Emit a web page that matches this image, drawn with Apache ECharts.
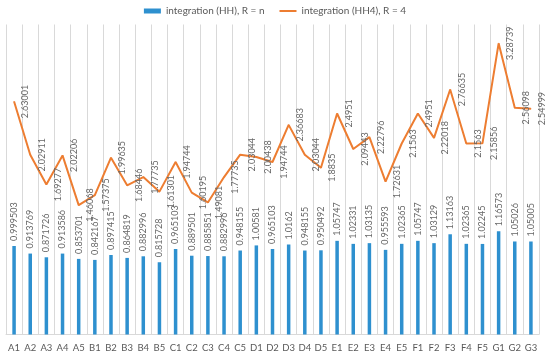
<!DOCTYPE html>
<html>
<head>
<meta charset="utf-8">
<script src="https://cdn.jsdelivr.net/npm/echarts@6/dist/echarts.min.js"></script>
<style>html,body{margin:0;padding:0;background:#fff}#c{width:550px;height:358px}</style>
</head>
<body>
<div id="c"></div>
<script>
const categories = ['A1','A2','A3','A4','A5','B1','B2','B3','B4','B5','C1','C2','C3','C4','C5','D1','D2','D3','D4','D5','E1','E2','E3','E4','E5','F1','F2','F3','F4','F5','G1','G2','G3'];
const hhValues = [0.999503,0.913769,0.871726,0.913586,0.853701,0.842167,0.897415,0.864819,0.882996,0.815728,0.965103,0.889501,0.885851,0.882996,0.948155,1.00581,0.965103,1.0162,0.948155,0.950492,1.05747,1.02331,1.03135,0.955593,1.02365,1.05747,1.03129,1.13163,1.02365,1.02245,1.16573,1.05026,1.05005];
const hh4Values = [2.63001,2.02911,1.69277,2.02206,1.46068,1.57375,1.99635,1.68446,1.77735,1.61301,1.94744,1.60195,1.49081,1.77735,2.03044,2.00438,1.94744,2.36683,2.03044,1.8835,2.4951,2.09443,2.22796,1.72631,2.1563,2.4951,2.22018,2.76635,2.1563,2.15856,3.28739,2.56098,2.54999];
const seriesNames = ['integration (HH), R = n', 'integration (HH4), R = 4'];

const FONT = 'Lato';
const chart = echarts.init(document.getElementById('c'), null, {renderer: 'canvas'});
chart.setOption({
  animation: false,
  textStyle: {fontFamily: FONT},
  legend: {
    top: 1,
    left: 'center',
    itemWidth: 17,
    itemHeight: 5,
    itemGap: 14,
    textStyle: {fontSize: 10, color: '#595959', fontFamily: FONT},
    data: [
      {name: seriesNames[0], icon: 'rect'},
      {name: seriesNames[1], itemStyle: {opacity: 0}}
    ]
  },
  grid: {left: 6, right: 11, top: 24.5, bottom: 23.5, containLabel: false},
  xAxis: {
    type: 'category',
    data: categories,
    boundaryGap: true,
    axisLine: {show: true, lineStyle: {color: '#d9d9d9'}},
    axisTick: {show: false},
    splitLine: {show: true, lineStyle: {color: '#d9d9d9', width: 1}},
    axisLabel: {interval: 0, fontSize: 9.5, color: '#595959', margin: 8, fontFamily: FONT}
  },
  yAxis: {
    type: 'value',
    min: 0,
    max: 3.5,
    show: false,
    splitLine: {show: false}
  },
  series: [
    {
      name: seriesNames[0],
      type: 'bar',
      data: hhValues,
      barWidth: 3.5,
      itemStyle: {color: '#2E90CF'},
      label: {
        show: true,
        position: 'top',
        distance: 5,
        rotate: 90,
        align: 'left',
        verticalAlign: 'middle',
        fontSize: 9,
        color: '#666666',
        fontFamily: FONT
      }
    },
    {
      name: seriesNames[1],
      type: 'line',
      data: hh4Values,
      symbol: 'circle',
      symbolSize: 1,
      showSymbol: true,
      itemStyle: {color: '#ED7D31'},
      lineStyle: {color: '#ED7D31', width: 2},
      label: {
        show: true,
        position: 'right',
        distance: 11,
        rotate: 90,
        align: 'center',
        verticalAlign: 'middle',
        fontSize: 9,
        color: '#666666',
        fontFamily: FONT
      },
      labelLayout: {hideOverlap: false}
    }
  ]
});
</script>
</body>
</html>
